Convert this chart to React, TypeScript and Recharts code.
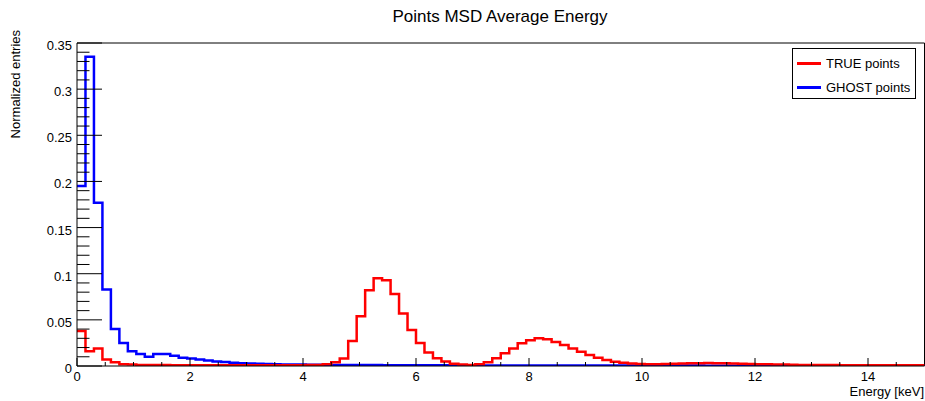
import React from "react";
import { ComposedChart, Line, XAxis, YAxis, ReferenceLine } from "recharts";

// Histogram binning: 100 bins of 0.15 keV from 0 to 15 keV
const BIN_WIDTH = 0.15;
const X_MAX = 15;

// Normalized entries per bin, TRUE points
const trueCounts = [
  0.038, 0.016, 0.019, 0.007, 0.004, 0.002, 0.0015, 0.0012, 0.001, 0.001,
  0.001, 0.0009, 0.0009, 0.0008, 0.0008, 0.0008, 0.0008, 0.0008, 0.0008, 0.0008,
  0.0008, 0.0008, 0.0008, 0.0008, 0.0008, 0.0008, 0.0009, 0.001, 0.0012, 0.002,
  0.004, 0.008, 0.027, 0.054, 0.082, 0.095, 0.093, 0.078, 0.057, 0.039,
  0.025, 0.0145, 0.0085, 0.005, 0.0025, 0.0015, 0.0012, 0.0018, 0.004, 0.0083,
  0.0138, 0.019, 0.0246, 0.028, 0.03, 0.029, 0.026, 0.0228, 0.019, 0.0155,
  0.012, 0.009, 0.0065, 0.0047, 0.0036, 0.0027, 0.0022, 0.002, 0.002, 0.0022,
  0.0025, 0.0028, 0.003, 0.003, 0.0032, 0.003, 0.003, 0.0028, 0.0025, 0.0022,
  0.002, 0.0018, 0.0016, 0.0015, 0.0013, 0.0012, 0.0011, 0.001, 0.001, 0.001,
  0.0009, 0.0009, 0.0009, 0.0008, 0.0008, 0.0008, 0.0008, 0.0007, 0.0007, 0.0007,
];

// Normalized entries per bin, GHOST points
const ghostCounts = [
  0.195, 0.335, 0.177, 0.083, 0.04, 0.025, 0.016, 0.013, 0.01, 0.013,
  0.013, 0.011, 0.009, 0.008, 0.007, 0.006, 0.005, 0.0042, 0.0036, 0.003,
  0.0027, 0.0024, 0.0021, 0.0019, 0.0017, 0.0016, 0.0015, 0.0014, 0.0013, 0.0012,
  0.0012, 0.0011, 0.0011, 0.001, 0.001, 0.001, 0.0009, 0.0009, 0.0009, 0.0008,
  0.0008, 0.0008, 0.0008, 0.0007, 0.0007, 0.0007, 0.0007, 0.0007, 0.0006, 0.0006,
  0.0006, 0.0006, 0.0006, 0.0006, 0.0006, 0.0006, 0.0005, 0.0005, 0.0005, 0.0005,
  0.0005, 0.0005, 0.0005, 0.0005, 0.0005, 0.0005, 0.0005, 0.0005, 0.0005, 0.0005,
  0.0005, 0.0005, 0.0005, 0.0005, 0.0004, 0.0004, 0.0004, 0.0004, 0.0004, 0.0004,
  0.0004, 0.0004, 0.0004, 0.0004, 0.0004, 0.0004, 0.0004, 0.0004, 0.0004, 0.0004,
  0.0004, 0.0004, 0.0004, 0.0004, 0.0004, 0.0004, 0.0004, 0.0004, 0.0004, 0.0004,
];

// Axis ticks: majors carry labels, the rest are minor divisions
const xTicks = [
  0, 0.5, 1, 1.5, 2, 2.5, 3, 3.5, 4, 4.5, 5, 5.5, 6, 6.5, 7, 7.5,
  8, 8.5, 9, 9.5, 10, 10.5, 11, 11.5, 12, 12.5, 13, 13.5, 14, 14.5,
];
const xMajorTicks = [0, 2, 4, 6, 8, 10, 12, 14];
const yTicks = [
  0, 0.01, 0.02, 0.03, 0.04, 0.05, 0.06, 0.07, 0.08, 0.09, 0.1, 0.11, 0.12,
  0.13, 0.14, 0.15, 0.16, 0.17, 0.18, 0.19, 0.2, 0.21, 0.22, 0.23, 0.24, 0.25,
  0.26, 0.27, 0.28, 0.29, 0.3, 0.31, 0.32, 0.33, 0.34, 0.35,
];
const yMajorTicks = [0, 0.05, 0.1, 0.15, 0.2, 0.25, 0.3, 0.35];

const series = [
  { key: "ghost", name: "GHOST points", color: "#0000ff", values: ghostCounts },
  { key: "true", name: "TRUE points", color: "#ff0000", values: trueCounts },
];
const legendOrder = ["true", "ghost"];

const FONT = "'Liberation Sans', Arial, Helvetica, sans-serif";

// One row per bin lower edge, plus a closing row at the upper range edge
const rows = ghostCounts.map((_, i) => {
  const row: Record<string, number> = { x: +(i * BIN_WIDTH).toFixed(2) };
  series.forEach((s) => (row[s.key] = s.values[i]));
  return row;
});
const lastRow: Record<string, number> = { x: X_MAX };
series.forEach((s) => (lastRow[s.key] = s.values[s.values.length - 1]));
rows.push(lastRow);

const isMajor = (v: number, majors: number[]) =>
  majors.some((m) => Math.abs(m - v) < 1e-9);

const XTick = (props: any) => {
  const { x, y, payload } = props;
  const major = isMajor(payload.value, xMajorTicks);
  return (
    <g>
      <line x1={x} x2={x} y1={y} y2={y - (major ? 8 : 4)} stroke="#000" strokeWidth={1} />
      {major && (
        <text x={x} y={y + 15} textAnchor="middle" fontSize={13} fontFamily={FONT} fill="#000">
          {payload.value}
        </text>
      )}
    </g>
  );
};

const YTick = (props: any) => {
  const { x, y, payload } = props;
  const major = isMajor(payload.value, yMajorTicks);
  return (
    <g>
      <line x1={x} x2={x + (major ? 25 : 12.5)} y1={y} y2={y} stroke="#000" strokeWidth={1} />
      {major && (
        <text x={x - 5} y={y + 7} textAnchor="end" fontSize={13} fontFamily={FONT} fill="#000">
          {Number(payload.value.toFixed(2)).toString()}
        </text>
      )}
    </g>
  );
};

export default function App() {
  return (
    <div
      style={{
        position: "absolute",
        left: 0,
        top: 0,
        width: 925,
        height: 401,
        background: "#fff",
        fontFamily: FONT,
      }}
    >
      <ComposedChart
        width={925}
        height={401}
        data={rows}
        margin={{ top: 43, right: 0.5, bottom: 15, left: 37 }}
      >
        <XAxis
          dataKey="x"
          type="number"
          domain={[0, X_MAX]}
          ticks={xTicks}
          interval={0}
          tickSize={0}
          tickMargin={0}
          tickLine={false}
          height={20}
          axisLine={{ stroke: "#000", strokeWidth: 1 }}
          tick={<XTick />}
          allowDataOverflow
        />
        <YAxis
          type="number"
          domain={[0, 0.35]}
          ticks={yTicks}
          interval={0}
          tickSize={0}
          tickMargin={0}
          tickLine={false}
          width={40}
          axisLine={{ stroke: "#000", strokeWidth: 1 }}
          tick={<YTick />}
          allowDataOverflow
        />
        <ReferenceLine y={0.35} stroke="#000" strokeWidth={1} />
        <ReferenceLine x={X_MAX} stroke="#000" strokeWidth={1} />
        {series.map((s) => (
          <Line
            key={s.key}
            dataKey={s.key}
            name={s.name}
            type="stepAfter"
            stroke={s.color}
            strokeWidth={2.5}
            dot={false}
            activeDot={false}
            isAnimationActive={false}
          />
        ))}
      </ComposedChart>

      {/* Title */}
      <div
        style={{
          position: "absolute",
          left: 0,
          width: 1000,
          top: 7,
          textAlign: "center",
          fontSize: 17,
          lineHeight: "20px",
          color: "#000",
        }}
      >
        Points MSD Average Energy
      </div>

      {/* Y axis title, aligned to the top of the axis */}
      <div
        style={{
          position: "absolute",
          left: 16,
          top: 30,
          transformOrigin: "0 0",
          transform: "rotate(-90deg) translate(-100%, -50%)",
          fontSize: 13,
          lineHeight: "14px",
          whiteSpace: "nowrap",
          color: "#000",
        }}
      >
        Normalized entries
      </div>

      {/* X axis title, aligned to the right end */}
      <div
        style={{
          position: "absolute",
          right: 1,
          top: 385,
          fontSize: 13,
          lineHeight: "14px",
          whiteSpace: "nowrap",
          color: "#000",
        }}
      >
        Energy [keV]
      </div>

      {/* Legend box */}
      <div
        style={{
          position: "absolute",
          left: 792,
          top: 48,
          width: 124,
          height: 51,
          border: "1px solid #000",
          boxSizing: "border-box",
          background: "#fff",
          fontSize: 13,
          color: "#000",
        }}
      >
        {legendOrder.map((k, i) => {
          const s = series.find((d) => d.key === k)!;
          return (
            <div
              key={k}
              style={{
                position: "absolute",
                left: 4,
                top: 5 + i * 24,
                height: 18,
                display: "flex",
                alignItems: "center",
                whiteSpace: "nowrap",
              }}
            >
              <span
                style={{
                  display: "inline-block",
                  width: 24,
                  height: 3,
                  background: s.color,
                  marginRight: 5,
                }}
              />
              {s.name}
            </div>
          );
        })}
      </div>
    </div>
  );
}
